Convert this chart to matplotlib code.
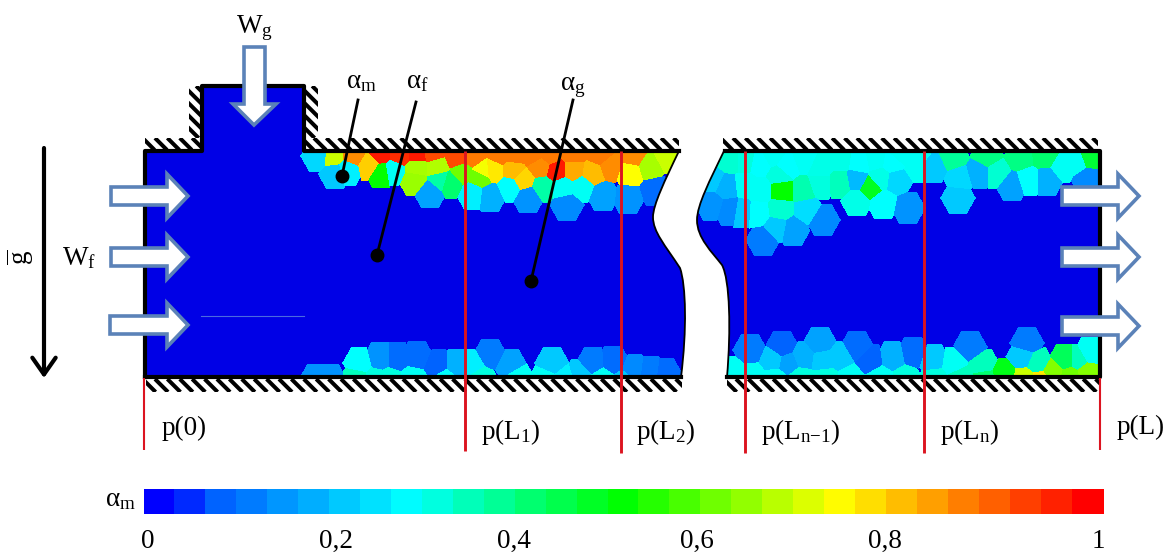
import numpy as np
import matplotlib
matplotlib.use('Agg')
import matplotlib.pyplot as plt
from matplotlib.path import Path
from matplotlib.patches import PathPatch, Polygon, Rectangle
from matplotlib.collections import LineCollection
from matplotlib.colors import LinearSegmentedColormap, BoundaryNorm
from matplotlib.colorbar import ColorbarBase

plt.rcParams['font.family'] = ['Liberation Serif', 'DejaVu Serif']
plt.rcParams['mathtext.fontset'] = 'custom'
plt.rcParams['mathtext.rm'] = 'Liberation Serif'
plt.rcParams['mathtext.it'] = 'Liberation Serif'
plt.rcParams['mathtext.default'] = 'rm'

# ---- data: mesh cells (x px, y px, alpha_m)
cells_top_left = [
 (318,156,.22),(333,157,.68),(353,155,.85),(347,170,.25),(335,173,.2),(370,165,.78),(380,155,.97),
 (381,172,.5),(393,170,.28),(400,155,.95),(417,168,.65),(417,155,.97),(437,167,.66),(433,153,.92),
 (457,158,.92),(430,192,.15),(450,183,.4),(440,180,.35),(473,194,.25),(490,196,.17),(483,171,.72),
 (473,157,.87),(493,170,.75),(480,177,.6),(513,170,.8),(500,155,.87),(523,180,.77),(540,167,.85),
 (557,171,.97),(533,155,.87),(573,170,.82),(573,155,.87),(593,173,.8),(610,167,.85),(630,173,.73),
 (650,167,.65),(667,158,.68),(633,156,.85),(600,155,.87),(510,187,.27),(528,197,.13),(543,187,.35),
 (567,205,.12),(563,187,.28),(582,187,.28),(603,195,.15),(628,198,.13),(655,190,.08),(550,155,.87),(515,155,.87),
 (415,180,.64),(462,172,.6)]
cells_bot_left = [
 (316,380,.13),(330,380,.13),(360,363,.27),(380,358,.13),(397,358,.08),(417,357,.08),(437,365,.07),
 (457,365,.17),(473,365,.25),(490,355,.1),(510,365,.15),(357,378,.33),(375,379,.3),(390,379,.3),
 (413,378,.28),(445,379,.27),(480,377,.3),(517,377,.28),(552,363,.2),(545,379,.28),(580,375,.2),
 (565,379,.25),(593,363,.1),(613,362,.08),(602,378,.28),(633,370,.12),(650,372,.1),(665,374,.08),(625,380,.2)]
cells_top_right = [
 (730,160,.31),(727,187,.17),(730,210,.12),(712,205,.13),(712,180,.2),(745,160,.3),(760,163,.27),
 (782,190,.5),(760,190,.28),(803,190,.34),(780,210,.31),(758,213,.27),(807,210,.23),(763,240,.1),
 (793,230,.15),(823,220,.12),(777,227,.2),(787,167,.27),(805,160,.28),(820,167,.29),(840,183,.33),
 (840,160,.29),(860,163,.27),(857,180,.18),(870,187,.47),(857,200,.29),(883,203,.27),(897,180,.22),
 (893,163,.27),(917,167,.28),(908,208,.13),(933,167,.2),(960,178,.22),(958,198,.2),
 (953,158,.36),(978,173,.17),(997,173,.31),(987,156,.38),(1012,185,.15),(1028,180,.27),(1045,156,.4),
 (1047,180,.17),(1063,167,.28),(1077,163,.28),(1090,158,.45),(1087,178,.12),(1020,158,.38),(875,160,.28),(745,185,.28),
 (772,156,.28),(900,155,.28),(918,155,.28),(880,178,.29),(820,184,.3),(742,212,.2),(780,175,.3)]
cells_bot_right = [
 (733,372,.28),(750,350,.1),(773,360,.2),(788,363,.15),(782,347,.07),(803,357,.17),(820,343,.15),
 (823,360,.2),(840,357,.2),(857,347,.08),(870,360,.07),(893,357,.17),(913,353,.08),(753,376,.28),
 (775,378,.28),(800,378,.3),(825,378,.3),(850,378,.28),(880,378,.28),(905,378,.3),(933,360,.2),
 (953,363,.28),(935,378,.3),(970,347,.1),(983,365,.33),(960,378,.33),(985,378,.4),(1003,374,.48),
 (1027,343,.1),(1023,357,.2),(1037,363,.33),(1025,378,.68),(1040,380,.75),(1053,372,.62),
 (1065,360,.42),(1078,360,.33),(1090,353,.28),(1070,376,.6),(1087,372,.62)]

section_labels = ['p(0)', r'$p(L_1)$', r'$p(L_2)$', r'$p(L_{n\mathrm{-}1})$', r'$p(L_n)$', 'p(L)']
colorbar_ticks = ['0', '0,2', '0,4', '0,6', '0,8', '1']
n_colorbar_levels = 31
rainbow = [(0,'#0000ff'),(.016,'#0000ff'),(.048,'#0055ff'),(.27,'#00ffff'),(.5,'#00ff00'),(.73,'#ffff00'),(1,'#ff0000')]
BG = '#0000e6'
ARROW = '#5b82b8'
RED = '#dc1420'

W, H = 1172, 554
fig = plt.figure(figsize=(W/100, H/100), dpi=100)
ax = fig.add_axes([0, 0, 1, 1])
ax.set_xlim(0, W); ax.set_ylim(H, 0); ax.axis('off')
cmap = LinearSegmentedColormap.from_list('rb', rainbow, 256)

# ---- fluid domains
M, L, C4 = Path.MOVETO, Path.LINETO, Path.CURVE4
left_v = [(145,151),(202,151),(202,86),(304,86),(304,151),(679,151),
          (665,180),(653,205),(653,217),(653,232),(665,245),(680,268),(686,285),(687,330),(681,377),
          (145,377),(145,151)]
left_c = [M,L,L,L,L,L,C4,C4,C4,C4,C4,C4,C4,C4,C4,L,L]
right_v = [(724,151),(710,180),(697,205),(697,220),(697,238),(712,252),(722,265),(730,280),(731,330),(727,377),
           (1100,377),(1100,151),(724,151)]
right_c = [M,C4,C4,C4,C4,C4,C4,C4,C4,C4,L,L,L]
left_patch = PathPatch(Path(left_v, left_c), fc=BG, ec='none', zorder=1)
right_patch = PathPatch(Path(right_v, right_c), fc=BG, ec='none', zorder=1)
ax.add_patch(left_patch); ax.add_patch(right_patch)

# ---- mesh cells: nearest site, cut off by a hexagon around the site
def field(sites, radius=15.5):
    s = np.array(sites, float)
    xx, yy = np.meshgrid(np.arange(W) + .5, np.arange(H) + .5)
    xmin, xmax = int(s[:,0].min()-30), int(s[:,0].max()+30)
    ymin, ymax = int(s[:,1].min()-30), min(int(s[:,1].max()+30), H)
    out = np.full((H, W), np.nan)
    sx = xx[ymin:ymax, xmin:xmax]; sy = yy[ymin:ymax, xmin:xmax]
    dx = sx[..., None]-s[:,0]; dy = sy[..., None]-s[:,1]
    i = (dx**2+dy**2).argmin(-1)
    ii = np.indices(i.shape)
    adx = np.abs(dx[ii[0], ii[1], i]); ady = np.abs(dy[ii[0], ii[1], i])
    hexd = np.maximum(ady, .866*adx + .5*ady)
    v = s[:,2][i]; v[hexd > radius] = np.nan
    out[ymin:ymax, xmin:xmax] = v
    return out

for sites, patch in [(cells_top_left + cells_bot_left, left_patch),
                     (cells_top_right + cells_bot_right, right_patch)]:
    im = ax.imshow(field(sites), cmap=cmap, vmin=0, vmax=1, extent=(0, W, H, 0),
                   interpolation='bilinear', aspect='auto', zorder=2)
    im.set_clip_path(patch)
ax.set_xlim(0, W); ax.set_ylim(H, 0)
ax.plot([201,304],[316,316], color='#4a6ae0', lw=.8, zorder=3)

# ---- hatched walls
def hatch(x0, x1, y0, y1, step=12.4):
    rect = Rectangle((x0, y0), x1-x0, y1-y0, transform=ax.transData)
    h = y1-y0
    segs = [[(x, y0), (x+h, y1)] for x in np.arange(x0-h-40, x1+10, step)]
    lc = LineCollection(segs, colors='black', linewidths=2.9, zorder=3, capstyle='butt')
    ax.add_collection(lc); lc.set_clip_path(rect)

for b in [(145,202,138,150),(304,679,138,150),(723,1098,138,150),(189,201,86,138),(305,318,86,138),
          (146,682,379,392),(727,1100,379,392)]:
    hatch(*b)

# ---- outlines
thick = dict(color='black', lw=3, solid_capstyle='projecting', zorder=5)
ax.plot([145,145,202,202,304,304,679],[377,151,151,86,86,151,151], **thick)
ax.plot([145,681],[377,377], **thick)
ax.plot([725,1100,1100,727],[151,151,377,377], **thick)
for v, c in [(left_v[5:15], left_c[5:15]), (right_v[:10], right_c[:10])]:
    c = list(c); c[0] = M
    ax.add_patch(PathPatch(Path(v, c), fc='none', ec='black', lw=1.3, zorder=5))

# ---- red section lines
red_x = [144, 465, 621, 745, 924, 1100]
red_top = [378, 151, 151, 151, 151, 378]
red_bot = [450, 451, 453, 453, 453, 450]
red_w = [1.5, 2.1, 2.1, 2.1, 2.1, 1.5]
for x, t, b, w in zip(red_x, red_top, red_bot, red_w):
    ax.plot([x, x], [t, b], color=RED, lw=w, zorder=6, solid_capstyle='butt')

# ---- block arrows
def right_arrow(x0, xh, xt, y, hb=9, hh=22):
    pts = [(x0,y-hb),(xh,y-hb),(xh,y-hh),(xt,y),(xh,y+hh),(xh,y+hb),(x0,y+hb)]
    ax.add_patch(Polygon(pts, closed=True, fc='white', ec=ARROW, lw=2.6, zorder=7, joinstyle='miter'))

for x0, y in [(111,196),(111,257),(110,325)]:
    right_arrow(x0, 167, 188, y)
for y in [196,257,326]:
    right_arrow(1062, 1118, 1139, y)
ax.add_patch(Polygon([(244,47),(265,47),(265,104),(276,104),(254,125),(233,104),(244,104)],
                     closed=True, fc='white', ec=ARROW, lw=2.6, zorder=7, joinstyle='miter'))

# ---- leaders
for (x0,y0),(x1,y1) in [((358,100),(342,176)),((416,102),(377,255)),((573,100),(531,281))]:
    ax.plot([x0,x1],[y0,y1], color='black', lw=2, zorder=8)
    ax.plot([x1],[y1], 'o', color='black', ms=9, zorder=8)

# ---- gravity arrow
ax.annotate('', xy=(44,378), xytext=(44,148), zorder=8,
            arrowprops=dict(arrowstyle='->,head_length=.6,head_width=.42', color='black', lw=3,
                            mutation_scale=20, shrinkA=0, shrinkB=0))

# ---- text
FS = 19.5
def T(x, y, s, ha='center', **k):
    ax.text(x, y, s, ha=ha, va='center', fontsize=k.pop('fs', FS), color='black', zorder=9, **k)

T(255, 28, r'$W_g$')
T(79, 258, r'$W_f$')
T(20, 257, r'$\overline{g}$', rotation=90)
T(361, 82, r'$\alpha_m$')
T(417, 82, r'$\alpha_f$')
T(573, 87, r'$\alpha_g$')
lab_x = [162, 481, 636, 761, 940, 1117]
lab_y = [428, 432, 432, 432, 432, 427]
for x, y, s in zip(lab_x, lab_y, section_labels):
    T(x, y, s, ha='left')
T(120, 500, r'$\alpha_m$')
tick_x = [148, 336, 514, 697, 885, 1098]
for x, s in zip(tick_x, colorbar_ticks):
    T(x, 541, s)

# ---- colour bar
cax = fig.add_axes([144/W, 1-514/H, 960/W, 25/H])
bounds = np.linspace(0, 1, n_colorbar_levels + 1)
norm = BoundaryNorm(bounds, 256)
cb = ColorbarBase(cax, cmap=cmap, norm=norm, orientation='horizontal', spacing='uniform', ticks=[], drawedges=False)
cb.outline.set_visible(False)
cb.solids.set_edgecolor('face')
cax.tick_params(length=0, labelbottom=False)
cax.minorticks_off()

fig.savefig('out.png', dpi=100, facecolor='white')
